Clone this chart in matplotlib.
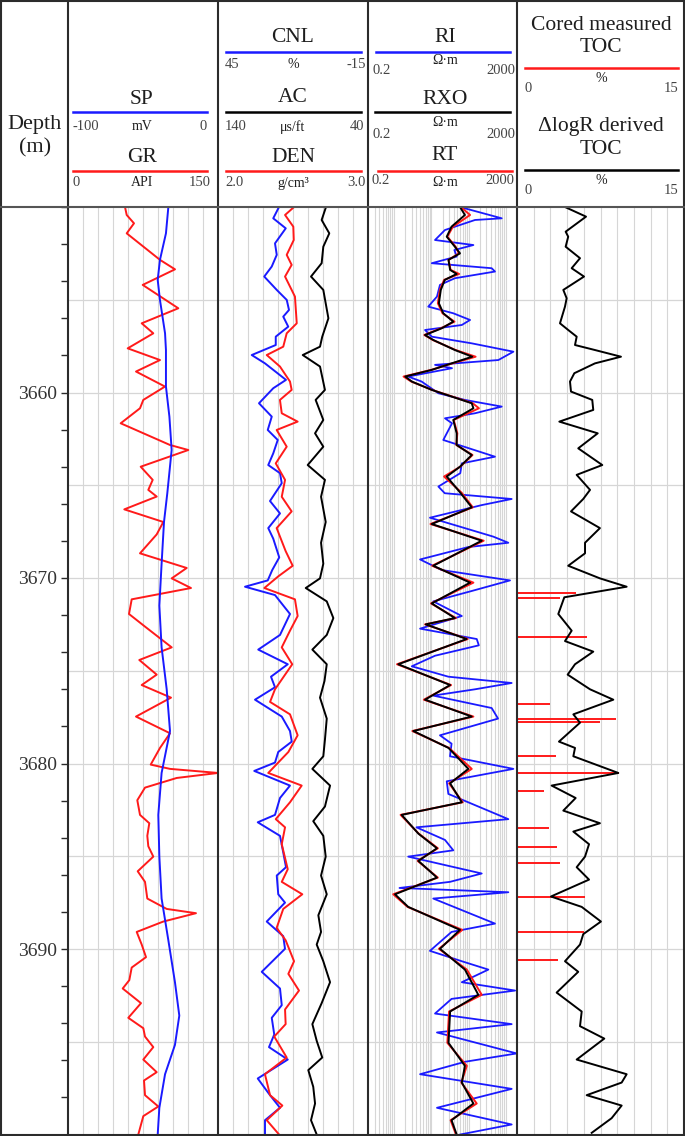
import numpy as np
import matplotlib.pyplot as plt
from matplotlib.ticker import MultipleLocator

plt.rcParams['font.family'] = ['Liberation Serif', 'DejaVu Serif']
plt.rcParams['lines.solid_joinstyle'] = 'round'

# depth window of the log (m)
top_depth, base_depth = 3650, 3700
depth_labels = [3660, 3670, 3680, 3690]

# ---- track 1 : SP (mV) and GR (API), (depth, value)
sp_log = [
    (3650.0, -33.1), (3651.42, -34.7), (3652.85, -38.7), (3653.93, -40.2), (3655.01, -38.7),
    (3656.81, -35.3), (3657.71, -34.7), (3659.68, -34.7), (3661.3, -32.4), (3663.1, -30.9),
    (3665.43, -33.8), (3666.98, -36.0), (3669.23, -37.6), (3671.49, -39.1), (3673.74, -37.6),
    (3676.0, -34.2), (3678.25, -32.0), (3680.51, -37.6), (3682.77, -39.8), (3685.02, -39.1),
    (3687.28, -37.6), (3689.53, -33.1), (3691.79, -28.7), (3693.59, -25.8), (3695.17, -28.7),
    (3696.75, -35.3), (3698.56, -39.1), (3700.0, -40.2),
]
gr_log = [
    (3650.0, 57), (3650.43, 58.7), (3650.88, 66), (3651.42, 58.7), (3652.85, 92), (3653.36, 107),
    (3654.2, 74.7), (3655.46, 110.3), (3656.27, 73.7), (3656.81, 85.3), (3657.62, 59.7),
    (3658.25, 92), (3658.87, 68), (3659.68, 97), (3660.4, 75.3), (3660.85, 72), (3661.66, 52.7),
    (3662.83, 102), (3663.1, 120.3), (3664.0, 72.7), (3664.71, 84.7), (3665.25, 80.3),
    (3665.61, 88.7), (3666.3, 56.3), (3666.98, 95.3), (3667.65, 88.7), (3668.67, 72),
    (3669.46, 118.7), (3670.02, 103.7), (3670.54, 123), (3671.15, 63.7), (3671.94, 61),
    (3672.62, 77), (3673.74, 103.7), (3674.42, 71.3), (3675.21, 88.7), (3675.77, 73.7),
    (3676.45, 103), (3677.47, 68), (3678.37, 102), (3679.16, 92), (3680.06, 82.7), (3680.29, 102),
    (3680.51, 150), (3680.78, 108.7), (3681.3, 77), (3681.98, 69.3), (3682.77, 72), (3683.22, 81.3),
    (3683.9, 79.3), (3684.46, 80.3), (3685.02, 85.3), (3685.81, 69.7), (3686.38, 77), (3687.28, 79.3),
    (3687.84, 98.7), (3688.07, 128), (3688.52, 95.3), (3689.08, 68.7), (3689.76, 73.7), (3690.44, 78),
    (3691.0, 63.7), (3691.68, 61.3), (3692.13, 54.7), (3692.92, 73), (3693.71, 60.3), (3694.27, 75.3),
    (3694.72, 77), (3695.29, 85.3), (3695.96, 75.3), (3696.64, 88.7), (3697.09, 76), (3697.88, 77),
    (3698.49, 90.3), (3699.01, 75.3), (3700.0, 70.3),
]

# ---- track 2 : CNL (%), AC (us/ft), DEN (g/cm3)
cnl_log = [
    (3650.0, 20.6), (3650.61, 22.9), (3651.15, 17.9), (3651.96, 22.2), (3652.58, 21.5), (3653.21, 23.5),
    (3653.75, 26.5), (3654.47, 21.5), (3655.01, 17.5), (3655.55, 16.6), (3655.91, 18.9), (3656.45, 16.9),
    (3656.99, 21.9), (3657.44, 21.9), (3657.98, 31.5), (3658.43, 26.2), (3659.32, 17.8), (3659.77, 22.9),
    (3660.58, 28.6), (3661.3, 23.5), (3662.02, 25.1), (3662.56, 21.1), (3663.28, 22.9), (3663.91, 24.9),
    (3664.35, 20.2), (3664.89, 19.5), (3665.85, 24.2), (3666.52, 20.2), (3667.31, 24.9), (3667.88, 22.9),
    (3668.89, 20.5), (3669.57, 23.3), (3670.13, 25.1), (3670.47, 34.2), (3670.92, 22.2), (3671.94, 16.2),
    (3673.07, 20.2), (3673.86, 28.9), (3674.65, 17.1), (3675.32, 23.8), (3675.89, 22.2), (3676.56, 30.2),
    (3677.47, 19.5), (3678.25, 16.2), (3678.82, 15.5), (3679.38, 20.9), (3679.95, 22.2), (3680.4, 30.5),
    (3681.19, 16.2), (3681.86, 20.2), (3682.77, 22.2), (3683.17, 29.1), (3683.9, 20.2), (3684.8, 18.9),
    (3685.59, 17.8), (3686.04, 21.5), (3687.05, 20.9), (3687.5, 18.2), (3688.52, 25.5), (3689.31, 18.9),
    (3689.99, 18.2), (3691.23, 27.5), (3692.13, 20.2), (3693.03, 19.5), (3693.71, 23.5), (3694.61, 22.5),
    (3695.29, 24.6), (3695.96, 17.1), (3696.98, 29.1), (3697.88, 24.2), (3698.56, 20.2), (3699.23, 26.2),
    (3700.0, 26.2),
]
den_log = [
    (3650.0, 2.507), (3650.43, 2.447), (3651.06, 2.502), (3651.78, 2.505), (3652.58, 2.458),
    (3653.12, 2.491), (3653.75, 2.447), (3654.83, 2.513), (3656.27, 2.525), (3656.81, 2.458),
    (3657.53, 2.435), (3657.98, 2.325), (3658.6, 2.413), (3659.41, 2.48), (3659.86, 2.491),
    (3660.4, 2.413), (3661.12, 2.425), (3661.57, 2.531), (3662.02, 2.391), (3662.92, 2.458),
    (3663.82, 2.385), (3664.71, 2.447), (3665.62, 2.425), (3666.41, 2.491), (3667.31, 2.391),
    (3668.55, 2.451), (3669.34, 2.498), (3669.91, 2.402), (3670.54, 2.309), (3671.15, 2.513),
    (3672.05, 2.531), (3672.84, 2.48), (3673.74, 2.425), (3674.65, 2.495), (3676.0, 2.38),
    (3676.68, 2.347), (3677.35, 2.48), (3678.48, 2.531), (3679.38, 2.469), (3680.51, 2.335),
    (3681.19, 2.558), (3682.09, 2.48), (3683.0, 2.385), (3683.44, 2.447), (3684.35, 2.425),
    (3685.7, 2.465), (3686.38, 2.425), (3687.05, 2.562), (3687.84, 2.435), (3688.86, 2.391),
    (3689.53, 2.451), (3690.66, 2.507), (3691.34, 2.469), (3692.24, 2.54), (3693.26, 2.447),
    (3694.05, 2.451), (3694.72, 2.375), (3695.85, 2.458), (3696.75, 2.313), (3697.88, 2.347),
    (3698.44, 2.429), (3699.23, 2.325), (3700.0, 2.407),
]
ac_log = [
    (3650.0, 68.0), (3650.7, 70.9), (3651.42, 65.8), (3652.14, 69.8), (3653.03, 70.9), (3653.75, 78.0),
    (3654.47, 69.8), (3656.0, 66.4), (3656.99, 70.5), (3657.53, 72.0), (3657.98, 83.5), (3658.6, 72.0),
    (3659.86, 68.7), (3660.4, 74.9), (3661.48, 69.8), (3662.2, 75.3), (3662.92, 69.8), (3663.91, 80.2),
    (3664.71, 68.7), (3665.62, 71.3), (3666.98, 68.2), (3668.1, 71.3), (3669.23, 69.8), (3670.02, 72.0),
    (3670.54, 81.5), (3671.26, 67.5), (3672.16, 63.1), (3673.07, 67.5), (3673.86, 77.1), (3674.65, 67.5),
    (3675.55, 69.0), (3676.45, 72.0), (3677.58, 67.5), (3678.71, 68.7), (3679.61, 69.8), (3680.29, 77.1),
    (3681.19, 65.3), (3682.32, 68.7), (3683.11, 76.5), (3683.9, 69.8), (3685.02, 68.2), (3686.04, 71.3),
    (3687.05, 67.5), (3688.18, 73.1), (3689.08, 71.3), (3689.76, 74.2), (3690.66, 69.8), (3691.79, 65.3),
    (3692.92, 70.9), (3694.05, 77.1), (3694.95, 74.2), (3695.85, 70.5), (3696.53, 79.8), (3697.43, 76.5),
    (3698.33, 75.3), (3699.23, 78.0), (3700.0, 74.2),
]

# ---- track 3 : resistivity (ohm.m)
ri_log = [
    (3650.0, 59), (3650.61, 778), (3650.7, 149), (3651.24, 23.3), (3651.78, 12.6), (3652.05, 135),
    (3652.32, 41.7), (3652.67, 48), (3653.03, 10.3), (3653.3, 418), (3653.48, 513), (3653.84, 43),
    (3654.2, 17.1), (3654.83, 14.2), (3655.37, 8.3), (3655.73, 39), (3656.09, 110), (3656.36, 66),
    (3656.63, 6.8), (3656.99, 10.3), (3657.35, 122), (3657.8, 1600), (3658.25, 632), (3658.51, 12.6),
    (3658.69, 36), (3659.14, 2.4), (3659.41, 5.5), (3660.04, 15.5), (3660.4, 80), (3660.76, 778),
    (3661.12, 149), (3661.39, 23.3), (3661.66, 36), (3662.56, 21), (3663.46, 513), (3663.82, 66),
    (3664.35, 60), (3665.07, 15.5), (3665.43, 23), (3665.74, 1440), (3666.07, 226), (3666.75, 9.2),
    (3667.77, 462), (3668.1, 1170), (3668.33, 99), (3669.0, 5), (3669.57, 19), (3670.13, 1300),
    (3670.7, 122), (3671.26, 11.3), (3672.05, 66), (3672.73, 5), (3673.29, 166), (3673.63, 189),
    (3674.19, 12.6), (3674.76, 3.0), (3675.32, 28.7), (3675.66, 1440), (3676.0, 149), (3676.34, 11.3),
    (3677.01, 418), (3677.58, 620), (3678.48, 17.1), (3678.93, 35), (3679.61, 31.8), (3680.29, 1600),
    (3680.96, 26), (3681.64, 28.7), (3683.0, 1170), (3683.44, 4.0), (3684.12, 23.3), (3684.68, 39),
    (3685.02, 2.4), (3685.93, 226), (3686.38, 31.8), (3686.71, 1.4), (3686.94, 1170), (3687.28, 11.3),
    (3688.63, 513), (3689.08, 35), (3690.1, 9.2), (3690.66, 66), (3691.11, 340), (3691.79, 66),
    (3692.24, 1780), (3692.69, 35), (3693.48, 12.6), (3694.05, 1440), (3694.5, 14.2), (3695.63, 1960),
    (3696.08, 80), (3696.75, 5), (3697.54, 1440), (3698.56, 14.2), (3699.46, 1440), (3700.0, 60),
]
rxo_log = [
    (3650.0, 59), (3650.43, 80), (3651.06, 35), (3651.6, 26), (3652.14, 43), (3652.5, 59), (3652.85, 29),
    (3653.39, 32), (3653.61, 48), (3653.93, 23), (3654.47, 18), (3655.19, 16), (3655.73, 21), (3656.18, 39),
    (3656.54, 19), (3656.9, 6.8), (3657.17, 11.3), (3657.71, 43), (3658.07, 126), (3658.43, 35),
    (3658.78, 10.3), (3659.14, 2.0), (3659.41, 3.0), (3659.86, 10.3), (3660.58, 122), (3660.85, 135),
    (3661.48, 39), (3662.2, 48), (3662.83, 48), (3663.37, 122), (3664.0, 59), (3664.53, 26),
    (3665.4, 60), (3666.19, 122), (3667.09, 10.3), (3667.99, 226), (3669.34, 11.3), (3670.25, 110),
    (3671.37, 10.3), (3672.16, 43), (3672.5, 7.1), (3673.29, 89), (3674.65, 1.3), (3675.77, 32),
    (3676.56, 6.8), (3677.47, 122), (3678.25, 3.3), (3679.16, 29), (3680.29, 99), (3681.07, 32),
    (3682.09, 66), (3682.77, 1.6), (3683.78, 4.5), (3684.57, 14.2), (3685.25, 4.5), (3686.15, 14.2),
    (3687.05, 1.06), (3687.73, 2.4), (3688.97, 59), (3689.99, 17.1), (3691.11, 80), (3692.47, 183),
    (3693.37, 32), (3695.06, 29), (3696.3, 80), (3697.2, 66), (3698.33, 135), (3699.23, 35), (3700.0, 48),
]
rt_log = [
    (3650.0, 62), (3650.43, 110), (3651.06, 38), (3651.6, 27), (3652.14, 45), (3652.5, 55), (3652.85, 29),
    (3653.39, 33), (3653.61, 56), (3653.93, 22), (3654.47, 17), (3655.19, 15), (3655.73, 20), (3656.18, 42),
    (3656.54, 18), (3656.9, 6.5), (3657.17, 11), (3657.71, 45), (3658.07, 155), (3658.43, 37),
    (3658.78, 10), (3659.14, 1.8), (3659.41, 2.9), (3659.86, 10.5), (3660.58, 130), (3660.85, 190),
    (3661.48, 40), (3662.2, 50), (3662.83, 47), (3663.37, 128), (3664.0, 60), (3664.53, 22),
    (3665.4, 65), (3666.19, 130), (3667.09, 9.5), (3667.99, 255), (3669.34, 10.5), (3670.25, 135),
    (3671.37, 9.8), (3672.16, 46), (3672.5, 6.8), (3673.29, 95), (3674.65, 1.2), (3675.77, 34),
    (3676.56, 6.3), (3677.47, 135), (3678.25, 3.1), (3679.16, 30), (3680.29, 122), (3681.07, 30),
    (3682.09, 70), (3682.77, 1.5), (3683.78, 4.6), (3684.57, 15), (3685.25, 4.3), (3686.15, 15),
    (3687.05, 0.95), (3687.73, 2.3), (3688.97, 68), (3689.99, 16), (3691.11, 90), (3692.47, 226),
    (3693.37, 30), (3695.06, 27), (3696.3, 90), (3697.2, 64), (3698.33, 166), (3699.23, 33), (3700.0, 46),
]

# ---- track 4 : TOC (%)
toc_log = [
    (3650.0, 4.31), (3650.52, 6.2), (3651.33, 4.37), (3651.6, 4.6), (3652.14, 4.37), (3652.76, 5.66),
    (3653.3, 4.91), (3653.75, 6.02), (3654.47, 4.16), (3654.92, 4.46), (3655.37, 4.31), (3656.27, 3.86),
    (3656.63, 4.6), (3656.99, 5.36), (3657.44, 5.21), (3657.71, 7.0), (3658.07, 9.34), (3658.43, 7.0),
    (3658.96, 5.15), (3659.41, 4.76), (3659.95, 4.85), (3660.4, 6.76), (3660.94, 6.85), (3661.57, 3.8),
    (3662.2, 7.25), (3663.01, 5.5), (3663.91, 7.66), (3664.44, 5.36), (3665.25, 6.56), (3665.74, 5.95),
    (3666.41, 4.85), (3667.31, 7.45), (3668.1, 6.11), (3668.67, 6.11), (3669.34, 4.6), (3670.02, 7.45),
    (3670.47, 9.85), (3671.04, 4.25), (3671.94, 3.71), (3672.84, 4.91), (3673.4, 4.31), (3673.97, 6.85),
    (3674.65, 5.21), (3675.21, 4.55), (3676.0, 6.56), (3676.56, 8.65), (3677.35, 5.06), (3677.8, 5.66),
    (3678.82, 3.77), (3679.16, 5.21), (3679.61, 5.06), (3680.51, 9.1), (3681.19, 3.11), (3681.86, 5.27),
    (3682.54, 4.16), (3683.22, 7.45), (3683.67, 5.06), (3684.35, 6.47), (3685.02, 6.11), (3685.59, 5.36),
    (3686.26, 6.47), (3687.17, 3.05), (3687.73, 5.81), (3688.52, 7.54), (3689.2, 5.95), (3689.76, 5.66),
    (3690.66, 4.31), (3691.23, 5.5), (3692.35, 3.56), (3693.37, 5.81), (3694.16, 5.66), (3694.83, 7.84),
    (3695.96, 5.36), (3696.75, 9.85), (3697.2, 9.4), (3697.88, 6.26), (3698.44, 9.4), (3699.12, 8.5),
    (3699.91, 6.71),
]
core_toc = [
    (3670.81, 5.3), (3671.08, 3.86), (3673.2, 6.32), (3676.81, 2.96), (3677.6, 8.89), (3677.78, 7.45),
    (3679.59, 3.47), (3680.49, 9.16), (3681.48, 2.42), (3683.49, 2.87), (3684.5, 3.62), (3685.38, 3.86),
    (3687.19, 6.11), (3689.08, 6.05), (3690.59, 3.71),
]


def cols(pts):
    a = np.array(pts, dtype=float)
    return a[:, 0], a[:, 1]


W, H = 685, 1136
head_y, bot_y = 207, 1134.5
grid_c = '#d6d6d6'
line_c = '#2b2b2b'
lw = 1.4

fig = plt.figure(figsize=(W / 100, H / 100), dpi=100)


def track(x0, x1):
    ax = fig.add_axes([x0 / W, 1 - bot_y / H, (x1 - x0) / W, (bot_y - head_y) / H])
    ax.set_ylim(base_depth, top_depth)
    for s in ax.spines.values():
        s.set_visible(False)
    ax.tick_params(axis='both', which='both', bottom=False, left=False,
                   labelbottom=False, labelleft=False)
    return ax


def grid(ax, xs):
    for x in xs:
        ax.axvline(x, color=grid_c, lw=0.8, zorder=0)
    for d in range(top_depth + 5, base_depth, 5):
        ax.axhline(d, color=grid_c, lw=0.9, zorder=0)


def twin(ax, lims):
    t = ax.twiny()
    t.set_xlim(*lims)
    t.set_ylim(base_depth, top_depth)
    t.axis('off')
    return t


# track 1
ax1 = track(68, 218)
ax1.set_xlim(0, 150)
grid(ax1, np.linspace(0, 150, 11)[1:-1])
d, v = cols(gr_log)
ax1.plot(v, d, color='#ff1a1a', lw=lw)
t = twin(ax1, (-100, 0))
d, v = cols(sp_log)
t.plot(v, d, color='#1a1aff', lw=lw)
ax1.set_yticks(depth_labels)
ax1.yaxis.set_minor_locator(MultipleLocator(2))
ax1.tick_params(axis='y', which='both', left=True, labelleft=True, direction='out',
                length=5, width=1.0, color=line_c, pad=3, labelsize=14, labelcolor='#333333')

# track 2
ax2 = track(218, 368)
ax2.set_xlim(2.0, 3.0)
grid(ax2, np.linspace(2.0, 3.0, 11)[1:-1])
t = twin(ax2, (45, -15))
d, v = cols(cnl_log)
t.plot(v, d, color='#1a1aff', lw=lw)
t = twin(ax2, (2.0, 3.0))
d, v = cols(den_log)
t.plot(v, d, color='#ff1a1a', lw=lw)
t = twin(ax2, (140, 40))
d, v = cols(ac_log)
t.plot(v, d, color='black', lw=lw)

# track 3 (log)
ax3 = track(368, 517)
ax3.set_xscale('log')
ax3.set_xlim(0.2, 2000)
ax3.tick_params(axis='x', which='both', bottom=False, labelbottom=False)
log_lines = [k * 10.0 ** e for e in range(-1, 4) for k in range(1, 10)]
grid(ax3, [x for x in log_lines if 0.2 < x < 2000])
d, v = cols(ri_log)
ax3.plot(v, d, color='#1a1aff', lw=1.3)
d, v = cols(rt_log)
ax3.plot(v, d, color='#ff1a1a', lw=lw)
d, v = cols(rxo_log)
ax3.plot(v, d, color='black', lw=lw)

# track 4
ax4 = track(517, 684)
ax4.set_xlim(0, 15)
grid(ax4, np.linspace(0, 15, 11)[1:-1])
d, v = cols(core_toc)
ax4.hlines(d, 0, v, color='#ff1a1a', lw=lw)
d, v = cols(toc_log)
ax4.plot(v, d, color='black', lw=lw)

# header and frame, drawn in pixel coordinates
hd = fig.add_axes([0, 0, 1, 1])
hd.set_xlim(0, W)
hd.set_ylim(H, 0)
hd.axis('off')

for x in [1, 68, 218, 368, 517, 684]:
    hd.plot([x, x], [0, H], color=line_c, lw=1.5)
for y in [1, head_y, 1135]:
    hd.plot([0, W], [y, y], color=line_c if y != head_y else '#555555', lw=1.5)

name_fs, num_fs, unit_fs = 15.5, 10.5, 10
tc, nc = '#1e1e1e', '#444444'


def curve_head(cx, y_name, y_line, x0, x1, color, name, left, unit, right, y_num,
               y_unit=None, lpad=0, rpad=0):
    hd.text(cx, y_name, name, ha='center', va='center', fontsize=name_fs, color=tc)
    hd.plot([x0, x1], [y_line, y_line], color=color, lw=1.8)
    hd.text(x0 + lpad, y_num, left, ha='left', va='center', fontsize=num_fs, color=nc)
    hd.text(x1 + rpad, y_num, right, ha='right', va='center', fontsize=num_fs, color=nc)
    hd.text(cx, y_unit if y_unit else y_num, unit, ha='center', va='center',
            fontsize=unit_fs, color=tc)


hd.text(35, 124, 'Depth', ha='center', va='center', fontsize=16, color=tc)
hd.text(35, 148, '(m)', ha='center', va='center', fontsize=16, color=tc)

curve_head(142, 100, 112, 73, 207, '#1a1aff', 'SP', '-100', 'mV', '0', 126)
curve_head(142, 158, 171, 73, 207, '#ff1a1a', 'GR', '0', 'API', '150', 182, rpad=4)

curve_head(293, 38, 52, 226, 361, '#1a1aff', 'CNL', '45', '%', '-15', 64, lpad=-1, rpad=5)
curve_head(293, 97, 112, 226, 361, 'black', 'AC', '140', 'μs/ft', '40', 127, lpad=-1, rpad=3)
curve_head(293, 157, 171, 226, 361, '#ff1a1a', 'DEN', '2.0', 'g/cm³', '3.0', 183, lpad=-1, rpad=5)

curve_head(445, 38, 52, 376, 510, '#1a1aff', 'RI', '0.2', 'Ω·m', '2000', 71, y_unit=61,
           lpad=-3, rpad=5)
curve_head(445, 100, 112, 375, 510, 'black', 'RXO', '0.2', 'Ω·m', '2000', 134, y_unit=122,
           lpad=-2, rpad=5)
curve_head(445, 156, 171, 378, 512, '#ff1a1a', 'RT', '0.2', 'Ω·m', '2000', 181, y_unit=183,
           lpad=-6, rpad=2)

hd.text(601, 25, 'Cored measured', ha='center', va='center', fontsize=name_fs, color=tc)
curve_head(601, 48, 68, 525, 678, '#ff1a1a', 'TOC', '0', '%', '15', 89, y_unit=78)
hd.text(601, 127, 'ΔlogR derived', ha='center', va='center', fontsize=name_fs, color=tc)
curve_head(601, 150, 170, 525, 678, 'black', 'TOC', '0', '%', '15', 190, y_unit=180)

fig.savefig('out.png', dpi=100, facecolor='white')
